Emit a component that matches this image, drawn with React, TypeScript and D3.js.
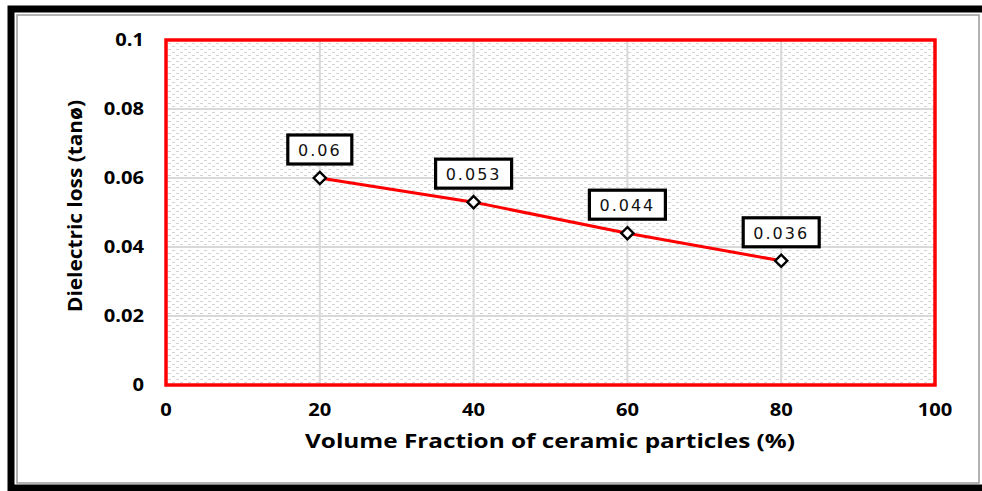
import React, { useEffect, useRef } from 'react';
import * as d3 from 'd3';

const volumeFraction = [20, 40, 60, 80];
const dielectricLoss = [0.06, 0.053, 0.044, 0.036];
const pointLabels = ['0.06', '0.053', '0.044', '0.036'];
const xTicks = [0, 20, 40, 60, 80, 100];
const yTicks = [0, 0.02, 0.04, 0.06, 0.08, 0.1];
const yTickLabels = ['0', '0.02', '0.04', '0.06', '0.08', '0.1'];

const W = 982;
const H = 491;

export default function App() {
  const ref = useRef<SVGSVGElement | null>(null);

  useEffect(() => {
    if (!ref.current) return;
    const svg = d3.select(ref.current);
    svg.selectAll('*').remove();

    const font = '"Open Sans", "Liberation Sans", sans-serif';
    const left = 166, right = 935, top = 40, bottom = 385;

    const x = d3.scaleLinear().domain([0, 100]).range([left, right]);
    const y = d3.scaleLinear().domain([0, 0.1]).range([bottom, top]);

    // background
    svg.append('rect').attr('width', W).attr('height', H).attr('fill', '#fff');

    // outer frame
    svg.append('rect').attr('x', 11).attr('y', 9).attr('width', 975).attr('height', 479)
      .attr('fill', 'none').attr('stroke', '#000').attr('stroke-width', 7);
    svg.append('rect').attr('x', 17).attr('y', 15).attr('width', 962).attr('height', 468)
      .attr('fill', 'none').attr('stroke', '#9a9a9a').attr('stroke-width', 1.5);

    // hatch pattern
    const defs = svg.append('defs');
    const pat = defs.append('pattern').attr('id', 'hatch').attr('patternUnits', 'userSpaceOnUse')
      .attr('width', 8).attr('height', 6);
    pat.append('rect').attr('width', 8).attr('height', 6).attr('fill', '#fff');
    pat.append('path').attr('d', 'M0,1.5 L3,1.5 M4,4.5 L7,4.5')
      .attr('stroke', '#d4d4d4').attr('stroke-width', 1.1);

    svg.append('rect').attr('x', left).attr('y', top).attr('width', right - left).attr('height', bottom - top)
      .attr('fill', 'url(#hatch)');

    // grid
    const g = svg.append('g');
    g.selectAll('line.gx').data(xTicks.slice(1, -1)).join('line')
      .attr('x1', d => x(d)).attr('x2', d => x(d)).attr('y1', top).attr('y2', bottom)
      .attr('stroke', '#d9d9d9').attr('stroke-width', 2);
    g.selectAll('line.gy').data(yTicks.slice(1, -1)).join('line')
      .attr('y1', d => y(d)).attr('y2', d => y(d)).attr('x1', left).attr('x2', right)
      .attr('stroke', '#d9d9d9').attr('stroke-width', 2);

    // plot border
    svg.append('rect').attr('x', left).attr('y', top).attr('width', right - left).attr('height', bottom - top)
      .attr('fill', 'none').attr('stroke', '#ff0000').attr('stroke-width', 3.5);

    // tick labels
    svg.selectAll('text.yt').data(yTicks).join('text')
      .attr('transform', d => `translate(144,${y(d) + 6}) scale(1.12,1)`)
      .attr('text-anchor', 'end')
      .attr('font-family', font).attr('font-weight', 700).attr('font-size', 18)
      .text((d, i) => yTickLabels[i]);
    svg.selectAll('text.xt').data(xTicks).join('text')
      .attr('transform', d => `translate(${x(d)},416) scale(1.12,1)`)
      .attr('text-anchor', 'middle')
      .attr('font-family', font).attr('font-weight', 700).attr('font-size', 18)
      .text(d => String(d));

    // axis titles
    svg.append('text').attr('x', 305).attr('y', 448)
      .attr('textLength', 490).attr('lengthAdjust', 'spacingAndGlyphs')
      .attr('font-family', font).attr('font-weight', 700).attr('font-size', 20)
      .text('Volume Fraction of ceramic particles (%)');
    svg.append('text').attr('transform', `translate(82,312) rotate(-90)`)
      .attr('textLength', 212).attr('lengthAdjust', 'spacingAndGlyphs')
      .attr('font-family', font).attr('font-weight', 700).attr('font-size', 19)
      .text('Dielectric loss (tanø)');

    // line
    const pts = volumeFraction.map((v, i) => [v, dielectricLoss[i]] as [number, number]);
    svg.append('path').datum(pts)
      .attr('fill', 'none').attr('stroke', '#ff0000').attr('stroke-width', 3)
      .attr('d', d3.line<[number, number]>().x(d => x(d[0])).y(d => y(d[1])));

    // markers
    svg.selectAll('path.mk').data(pts).join('path')
      .attr('transform', d => `translate(${x(d[0])},${y(d[1])})`)
      .attr('d', d3.symbol().type(d3.symbolDiamond2).size(95)())
      .attr('fill', '#fff').attr('stroke', '#000').attr('stroke-width', 2.4);

    // data labels
    const lab = svg.selectAll('g.lab').data(pts).join('g')
      .attr('transform', d => `translate(${x(d[0])},${y(d[1]) - 28})`);
    lab.append('rect')
      .attr('x', (d, i) => (i === 0 ? -32 : -38)).attr('y', -15)
      .attr('width', (d, i) => (i === 0 ? 64 : 76)).attr('height', 29)
      .attr('fill', '#fff').attr('stroke', '#000').attr('stroke-width', 3.2);
    lab.append('text').attr('text-anchor', 'middle').attr('y', 6)
      .attr('font-family', '"DejaVu Sans", sans-serif').attr('font-size', 16)
      .attr('letter-spacing', 2).attr('fill', '#111')
      .text((d, i) => pointLabels[i]);
  }, []);

  return (
    <svg ref={ref} width={W} height={H}
      style={{ position: 'absolute', left: 0, top: 0, display: 'block' }} />
  );
}
